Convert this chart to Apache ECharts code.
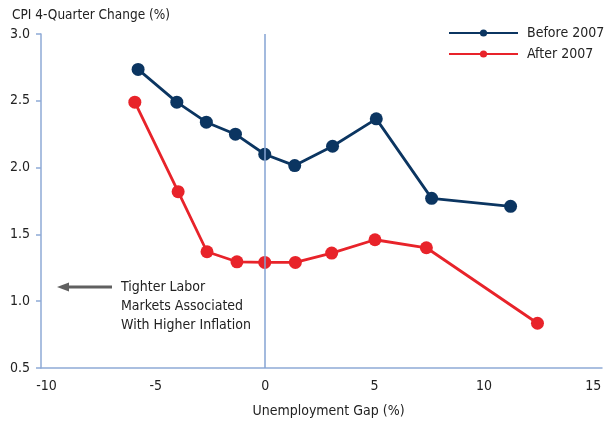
<!DOCTYPE html>
<html>
<head>
<meta charset="utf-8">
<script src="https://cdn.jsdelivr.net/npm/echarts@6/dist/echarts.min.js"></script>
<style>html,body{margin:0;padding:0;background:#fff}#c{width:616px;height:423px}</style>
</head>
<body>
<div id="c"></div>
<script>
var FONT = "'DejaVu Sans Condensed', 'Liberation Sans Narrow', sans-serif";
var seriesNames = ['Before 2007', 'After 2007'];
var beforeX = [-5.81, -4.04, -2.69, -1.36, -0.02, 1.35, 3.08, 5.08, 7.61, 11.22];
var beforeY = [2.735, 2.49, 2.34, 2.25, 2.10, 2.015, 2.16, 2.365, 1.77, 1.71];
var afterX = [-5.96, -3.98, -2.66, -1.29, -0.02, 1.38, 3.04, 5.02, 7.37, 12.45];
var afterY = [2.49, 1.82, 1.37, 1.295, 1.29, 1.29, 1.36, 1.46, 1.40, 0.835];
var xTicks = [-10, -5, 0, 5, 10, 15];
var yTicks = [0.5, 1.0, 1.5, 2.0, 2.5, 3.0];
var annotationLines = ['Tighter Labor', 'Markets Associated', 'With Higher Inflation'];

function pairs(xs, ys) { return xs.map(function (x, i) { return [x, ys[i]]; }); }

var axisColor = '#8eaad6';
var textColor = '#222';
var chart = echarts.init(document.getElementById('c'));
chart.setOption({
  animation: false,
  textStyle: { fontFamily: FONT },
  grid: { left: 41, right: 14, top: 34, bottom: 54, containLabel: false },
  legend: {
    orient: 'vertical', left: 448, top: 26, padding: 0, itemWidth: 69, itemHeight: 9, itemGap: 7,
    textStyle: { fontFamily: FONT, fontSize: 14, color: textColor, padding: [0, 0, 0, 4] },
    data: seriesNames
  },
  xAxis: {
    type: 'value', min: -10.25, max: 15.4,
    name: 'Unemployment Gap (%)', nameLocation: 'middle', nameGap: 36,
    nameTextStyle: { fontFamily: FONT, fontSize: 14, color: textColor, padding: [0, 0, 0, 14] },
    axisLine: { show: true, onZero: false, lineStyle: { color: axisColor, width: 1.5 } },
    axisTick: { show: false },
    splitLine: { show: false },
    axisLabel: { customValues: xTicks, margin: 11, fontFamily: FONT, fontSize: 14, color: textColor }
  },
  yAxis: {
    type: 'value', min: 0.5, max: 3.0, interval: 0.5,
    name: 'CPI 4-Quarter Change (%)', nameLocation: 'end', nameGap: 12,
    nameTextStyle: { fontFamily: FONT, fontSize: 13.5, color: textColor, align: 'left', padding: [0, 0, 0, -29] },
    axisLine: { show: true, onZero: false, lineStyle: { color: axisColor, width: 1.5 } },
    axisTick: { show: true, length: 5, lineStyle: { color: axisColor, width: 1.5 } },
    splitLine: { show: false },
    axisLabel: { margin: 11, fontFamily: FONT, fontSize: 14, color: textColor,
      formatter: function (v) { return v.toFixed(1); } }
  },
  series: [
    {
      name: seriesNames[0], type: 'line', data: pairs(beforeX, beforeY),
      symbol: 'circle', symbolSize: 13,
      lineStyle: { color: '#0b3561', width: 2.8 },
      itemStyle: { color: '#0b3561' },
      z: 3,
      markLine: {
        silent: true, symbol: 'none', label: { show: false },
        lineStyle: { color: '#85a3d3', width: 1.5, type: 'solid', opacity: 1 },
        data: [{ xAxis: 0 }]
      }
    },
    {
      name: seriesNames[1], type: 'line', data: pairs(afterX, afterY),
      symbol: 'circle', symbolSize: 13,
      lineStyle: { color: '#e8232a', width: 2.8 },
      itemStyle: { color: '#e8232a' },
      z: 2
    }
  ],
  graphic: [
    { type: 'line', shape: { x1: 64, y1: 287, x2: 112, y2: 287 }, style: { stroke: '#606060', lineWidth: 3 } },
    { type: 'polygon', shape: { points: [[57, 287], [69, 282.5], [69, 291.5]] }, style: { fill: '#606060' } },
    { type: 'text', left: 121, top: 277.5, style: { text: annotationLines.join('\n'), font: '14px ' + FONT, lineHeight: 19, fill: textColor } }
  ]
});
</script>
</body>
</html>
